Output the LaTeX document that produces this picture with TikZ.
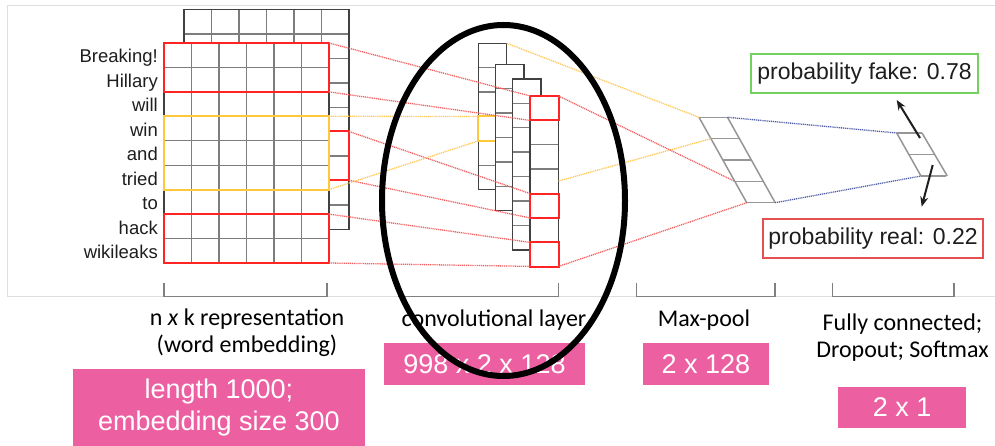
\documentclass[tikz,border=0pt]{standalone}
\usepackage{fontspec}
\setmainfont{Liberation Sans}
\newfontfamily\calib{Carlito}
\usetikzlibrary{arrows.meta}

\definecolor{pinkbox}{RGB}{236,96,162}
\definecolor{gridgray}{RGB}{125,125,125}
\definecolor{edgegray}{RGB}{65,65,65}
\definecolor{hlred}{RGB}{255,35,35}
\definecolor{hlyellow}{RGB}{255,200,60}
\definecolor{dotred}{RGB}{242,95,95}
\definecolor{dotyellow}{RGB}{255,200,90}
\definecolor{dotblue}{RGB}{80,95,165}
\definecolor{poolgray}{RGB}{150,150,150}
\definecolor{framegray}{RGB}{222,222,222}
\definecolor{probgreen}{RGB}{115,210,95}
\definecolor{probred}{RGB}{228,80,80}
\definecolor{txtdark}{RGB}{30,30,30}

\newcommand\convcol[3]{%
  \fill[white] (#1,#2) rectangle ({#1+28.4},{#2+#3*24.4});
  \foreach \k in {1,...,\numexpr#3-1\relax}
    \draw[gridline] (#1,{#2+\k*24.4}) -- ({#1+28.4},{#2+\k*24.4});
  \draw[outline] (#1,#2) rectangle ({#1+28.4},{#2+#3*24.4});
}

\begin{document}
\begin{tikzpicture}[x=1pt,y=-1pt,
  gridline/.style={draw=gridgray,line width=1.4pt},
  outline/.style={draw=edgegray,line width=1.5pt},
  hlr/.style={draw=hlred,line width=2pt},
  hly/.style={draw=hlyellow,line width=2pt},
  dred/.style={draw=dotred,line width=1.3pt,dash pattern=on 1.1pt off 0.8pt},
  dyel/.style={draw=dotyellow,line width=1.3pt,dash pattern=on 1.1pt off 0.8pt},
  dblue/.style={draw=dotblue,line width=1.3pt,dash pattern=on 1.1pt off 0.8pt},
  pool/.style={draw=poolgray,line width=1.5pt},
  word/.style={anchor=base east,inner sep=0pt,text=txtdark,font=\fontsize{18.5}{20}\selectfont},
  lbl/.style={anchor=base,inner sep=0pt,align=center,text=black,font=\calib\fontsize{24}{27}\selectfont},
  pinkb/.style={fill=pinkbox,inner sep=0pt,align=center,text=white,font=\fontsize{27}{32}\selectfont},
  prob/.style={line width=1.8pt,inner sep=0pt,text=txtdark,font=\fontsize{23}{26}\selectfont},
  bracket/.style={draw=gray,line width=1.2pt},
  arr/.style={draw=txtdark,line width=2pt,-{Stealth[length=10pt,width=8pt]}}
]
\useasboundingbox (0,0) rectangle (995,446);
\fill[white] (0,0) rectangle (995,446);

% frame of upper panel
\draw[framegray,line width=1pt] (1005,5.5) -- (7.5,5.5) -- (7.5,296.5) -- (1005,296.5);

% brackets
\foreach \a/\b in {164/327,399/558.3,636.7/775,832.3/954}
  \draw[bracket] (\a,283) -- (\a,296.5) -- (\b,296.5) -- (\b,283);

% ---------- embedding matrix (back) ----------
\fill[white] (184,9.5) rectangle (349,229.5);
\foreach \i in {1,...,8}
  \draw[gridline] (184,{9.5+\i*24.444}) -- (349,{9.5+\i*24.444});
\foreach \j in {1,...,5}
  \draw[gridline] ({184+\j*27.5},9.5) -- ({184+\j*27.5},229.5);
\draw[outline] (184,9.5) rectangle (349,229.5);

% ---------- embedding matrix (front) ----------
\fill[white] (164,43) rectangle (329,263);
\foreach \i in {1,...,8}
  \draw[gridline] (164,{43+\i*24.444}) -- (329,{43+\i*24.444});
\foreach \j in {1,...,5}
  \draw[gridline] ({164+\j*27.5},43) -- ({164+\j*27.5},263);
\draw[outline] (164,43) rectangle (329,263);

% highlight in back matrix
\draw[hlr] (329,131.5) -- (349,131.5) -- (349,180.3) -- (329,180.3);
% highlights in front matrix
\draw[hlr] (164,43) rectangle (329,91.9);
\draw[hlr] (164,214.1) rectangle (329,263);
\draw[hly] (164,116.3) rectangle (329,189.6);

% words
\foreach \w [count=\n from 0] in {Breaking!,Hillary,will,win,and,tried,to,hack,wikileaks}
  \node[word] (w\n) at (158,{43+\n*24.444+20}) {\w};

% ---------- convolutional layer ----------
\convcol{478.3}{43.3}{6}
\draw[hly] (495.7,116.5) -- (478.3,116.5) -- (478.3,140.9) -- (495.7,140.9);
\convcol{495.7}{64.3}{6}
\convcol{512.7}{79}{7}
\convcol{530.2}{96}{7}
\foreach \k in {0,4,6}
  \draw[hlr] (530.2,{96+\k*24.4}) rectangle (558.6,{96+(\k+1)*24.4});

% ---------- max-pool ----------
\foreach \k in {0,...,4}
  \draw[pool] ({699+\k*11.9},{117.3+\k*21.35}) -- ({727.5+\k*11.9},{117.3+\k*21.35});
\draw[pool] (699,117.3) -- (746.7,202.7);
\draw[pool] (727.5,117.3) -- (775.2,202.7);

% ---------- fully connected ----------
\foreach \k in {0,1,2}
  \draw[pool] ({896.7+\k*12.15},{133+\k*21.5}) -- ({922+\k*12.15},{133+\k*21.5});
\draw[pool] (896.7,133) -- (921,176);
\draw[pool] (922,133) -- (947.3,176);

% ---------- named end points ----------
\coordinate (e1t) at (329,43);
\coordinate (e1b) at (329,91.9);
\coordinate (ekt) at (349,131.5);
\coordinate (ekb) at (349,180.3);
\coordinate (e3t) at (329,214.1);
\coordinate (e3b) at (329,263);
\coordinate (eyt) at (329,116.3);
\coordinate (eyb) at (329,189.6);
\coordinate (c4a) at (530.2,96);
\coordinate (c4b) at (530.2,120.4);
\coordinate (c4c) at (530.2,193.6);
\coordinate (c4d) at (530.2,218);
\coordinate (c4e) at (530.2,242.4);
\coordinate (c4f) at (530.2,266.4);
\coordinate (cyt) at (478.3,116.5);
\coordinate (cyb) at (478.3,140.9);
\coordinate (c1tr) at (506.7,43.3);
\coordinate (c4tr) at (558.6,96);
\coordinate (c4mid) at (558.6,181);
\coordinate (c4br) at (558.6,266.4);
\coordinate (p0) at (699,117.3);
\coordinate (p1) at (710.9,138.65);
\coordinate (p3) at (734.7,181.35);
\coordinate (p4) at (746.7,202.7);
\coordinate (ptr) at (727.5,117.3);
\coordinate (pbr) at (775.2,202.7);
\coordinate (ftl) at (896.7,133);
\coordinate (fbl) at (921,176);
\coordinate (a1s) at (920,138);
\coordinate (a1e) at (896.7,100);
\coordinate (a2s) at (932.7,165);
\coordinate (a2e) at (921.7,206.7);

% connectors embedding -> conv
\draw[dred] (e1t) -- (c4a);
\draw[dred] (e1b) -- (c4b);
\draw[dred] (ekt) -- (c4c);
\draw[dred] (ekb) -- (c4d);
\draw[dred] (e3t) -- (c4e);
\draw[dred] (e3b) -- (c4f);
\draw[dyel] (eyt) -- (cyt);
\draw[dyel] (eyb) -- (cyb);
% conv -> pool
\draw[dyel] (c1tr) -- (p0);
\draw[dyel] (c4mid) -- (p1);
\draw[dred] (c4tr) -- (p3);
\draw[dred] (c4br) -- (p4);
% pool -> fc
\draw[dblue] (ptr) -- (ftl);
\draw[dblue] (pbr) -- (fbl);

% probability boxes
\node[prob,draw=probgreen,minimum width=227.6pt,minimum height=39pt] (pfake) at (864.5,73.8) {probability fake: 0.78};
\node[prob,draw=probred,minimum width=219.4pt,minimum height=39.3pt] (preal) at (873,238.7) {probability real: 0.22};
\draw[arr] (a1s) -- (a1e);
\draw[arr] (a2s) -- (a2e);

% bottom labels (base anchor = last line's baseline)
\node[lbl] (l1) at (247,352.5) {n \textit{x} k representation\\(word embedding)};
\node[lbl] (l2) at (494,326) {convolutional layer};
\node[lbl] (l3) at (704,326) {Max-pool};
\node[lbl] (l4) at (902.5,357.5) {Fully connected;\\Dropout; Softmax};

% pink boxes
\node[pinkb,minimum width=292.3pt,minimum height=77pt] (b1) at (218.9,407.5) {length 1000;\\embedding size 300};
\node[pinkb,minimum width=201pt,minimum height=42pt] (b2) at (484.5,364.3) {998 x 2 x 128};
\node[pinkb,minimum width=126.6pt,minimum height=42pt] (b3) at (706,364.3) {2 x 128};
\node[pinkb,minimum width=127.7pt,minimum height=41.6pt] (b4) at (902.2,407.5) {2 x 1};

% ellipse around conv layer
\draw[line width=6pt] (503.5,200.5) ellipse [x radius=121.5pt, y radius=175.5pt];
\end{tikzpicture}
\end{document}
